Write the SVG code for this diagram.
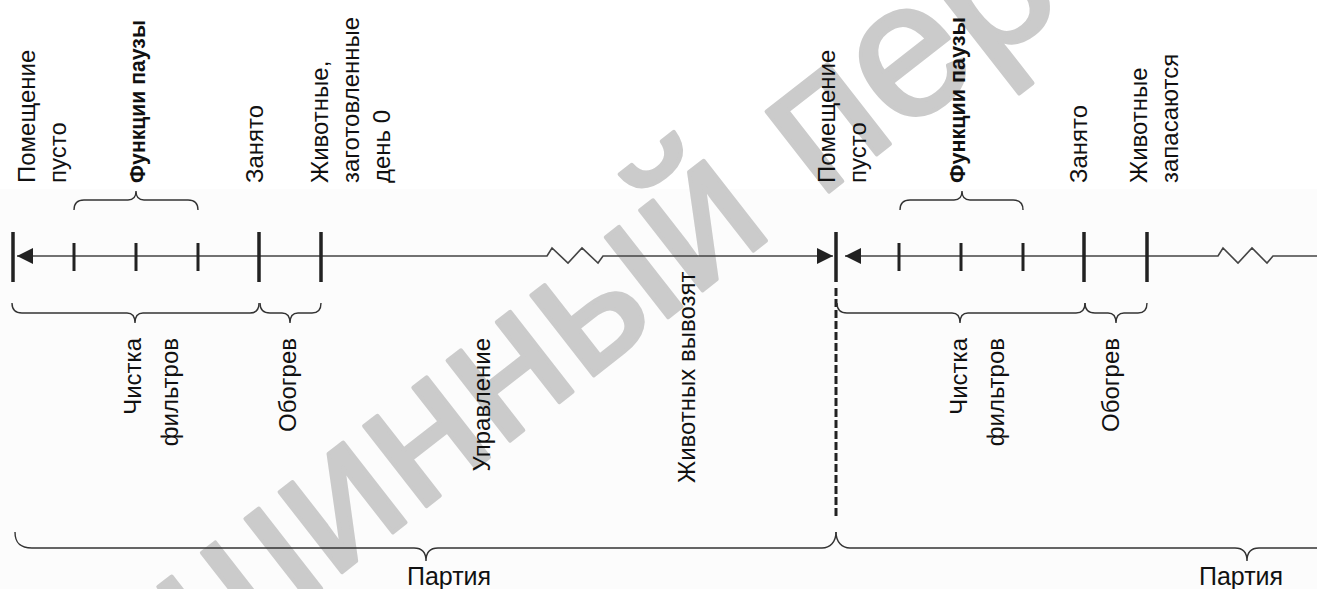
<svg xmlns="http://www.w3.org/2000/svg" width="1317" height="589" viewBox="0 0 1317 589">
<style>
.t{font-family:"Liberation Sans",Arial,sans-serif;font-size:24px;fill:#111}
.b{font-weight:bold;font-size:22px}
.e{text-anchor:end}
.m{text-anchor:middle}
.p{font-size:25px}
.ln{stroke:#444;stroke-width:1.6;fill:none}
.tk{stroke:#222;stroke-width:3.5}
.st{stroke:#222;stroke-width:3}
.br{stroke:#333;stroke-width:1.4;fill:none}
.ah{fill:#222}
.wm{font-family:"Liberation Sans",Arial,sans-serif;font-size:192px;fill:#cbcbcb;stroke:#cbcbcb;stroke-width:4;stroke-linejoin:round}
</style>
<rect x="0" y="0" width="1317" height="589" fill="#fff"/>
<rect x="0" y="189" width="1317" height="400" fill="#fcfcfc"/>
<text class="wm" transform="translate(22,822) rotate(-38)">машинный перевод</text>

<g id="connectors">
<path class="ln" d="M17,256 H547 L552,248 L568,263 L582,248 L598,263 L603,256 H833"/>
<path class="ln" d="M845,256 H1218 L1223,248 L1238,263 L1252,248 L1267,263 L1273,256 H1317"/>
<polygon class="ah" points="17,256 33,248 33,264"/>
<polygon class="ah" points="833,256 817,248 817,264"/>
<polygon class="ah" points="845,256 861,248 861,264"/>
<line class="tk" x1="13" y1="232" x2="13" y2="282"/>
<line class="tk" x1="836" y1="232" x2="836" y2="282"/>
<line x1="836" y1="288" x2="836" y2="518" stroke="#222" stroke-width="3" stroke-dasharray="8,3"/>
<line class="st" x1="74" y1="243" x2="74" y2="271"/>
<line class="st" x1="136" y1="243" x2="136" y2="271"/>
<line class="st" x1="198" y1="243" x2="198" y2="271"/>
<line class="tk" x1="259" y1="232" x2="259" y2="282"/>
<line class="tk" x1="321" y1="232" x2="321" y2="282"/>
<line class="st" x1="899" y1="243" x2="899" y2="271"/>
<line class="st" x1="961" y1="243" x2="961" y2="271"/>
<line class="st" x1="1023" y1="243" x2="1023" y2="271"/>
<line class="tk" x1="1084" y1="232" x2="1084" y2="282"/>
<line class="tk" x1="1147" y1="232" x2="1147" y2="282"/>
</g>

<g id="braces">
<path class="br" d="M74,210 C74,203 77,200 84,200 L128,200 C133,200 136,197 136,191 C136,197 139,200 144,200 L188,200 C195,200 198,203 198,210"/>
<path class="br" d="M900,210 C900,203 903,200 910,200 L954,200 C959,200 962,197 962,191 C962,197 965,200 970,200 L1013,200 C1020,200 1023,203 1023,210"/>
<path class="br" d="M12,303 C12,310 15,313 22,313 L127,313 C132,313 135,316 135,323 C135,316 138,313 143,313 L250,313 C256,313 259,310 259,303"/>
<path class="br" d="M260,303 C260,310 263,313 270,313 L282,313 C287,313 290,316 290,323 C290,316 293,313 298,313 L312,313 C318,313 321,310 321,303"/>
<path class="br" d="M837,303 C837,310 840,313 847,313 L952,313 C957,313 960,316 960,323 C960,316 963,313 968,313 L1076,313 C1082,313 1085,310 1085,303"/>
<path class="br" d="M1085,303 C1085,310 1088,313 1095,313 L1108,313 C1113,313 1116,316 1116,323 C1116,316 1119,313 1124,313 L1138,313 C1144,313 1147,310 1147,303"/>
<path class="br" d="M15,532 C15,543 20,548 32,548 L414,548 C422,548 426,553 426,561 C426,553 430,548 438,548 L822,548 C830,548 836,542 836,532"/>
<path class="br" d="M836,532 C836,542 842,548 850,548 L1235,548 C1243,548 1247,553 1247,561 C1247,553 1251,548 1259,548 L1330,548"/>
</g>

<g id="labels-top-left">
<text class="t" transform="translate(35,183) rotate(-90)">Помещение</text>
<text class="t" transform="translate(66,183) rotate(-90)">пусто</text>
<text class="t b" transform="translate(145,183) rotate(-90)" textLength="163" lengthAdjust="spacingAndGlyphs">Функции паузы</text>
<text class="t" transform="translate(263,183) rotate(-90)">Занято</text>
<text class="t" transform="translate(328,183) rotate(-90)">Животные,</text>
<text class="t" transform="translate(359,183) rotate(-90)">заготовленные</text>
<text class="t" transform="translate(390,183) rotate(-90)">день 0</text>
</g>
<g id="labels-top-right">
<text class="t" transform="translate(835,183) rotate(-90)">Помещение</text>
<text class="t" transform="translate(866,183) rotate(-90)">пусто</text>
<text class="t b" transform="translate(965,183) rotate(-90)" textLength="166" lengthAdjust="spacingAndGlyphs">Функции паузы</text>
<text class="t" transform="translate(1087,183) rotate(-90)">Занято</text>
<text class="t" transform="translate(1147,183) rotate(-90)">Животные</text>
<text class="t" transform="translate(1178,183) rotate(-90)">запасаются</text>
</g>
<g id="labels-bottom-left">
<text class="t e" transform="translate(141,338) rotate(-90)">Чистка</text>
<text class="t e" transform="translate(178,338) rotate(-90)">фильтров</text>
<text class="t e" transform="translate(296,338) rotate(-90)">Обогрев</text>
<text class="t e" transform="translate(490,338) rotate(-90)">Управление</text>
<text class="t" transform="translate(695,483) rotate(-90)">Животных вывозят</text>
<text class="t m p" x="449" y="585">Партия</text>
</g>
<g id="labels-bottom-right">
<text class="t e" transform="translate(967,338) rotate(-90)">Чистка</text>
<text class="t e" transform="translate(1004,338) rotate(-90)">фильтров</text>
<text class="t e" transform="translate(1119,338) rotate(-90)">Обогрев</text>
<text class="t m p" x="1241" y="585">Партия</text>
</g>
</svg>
